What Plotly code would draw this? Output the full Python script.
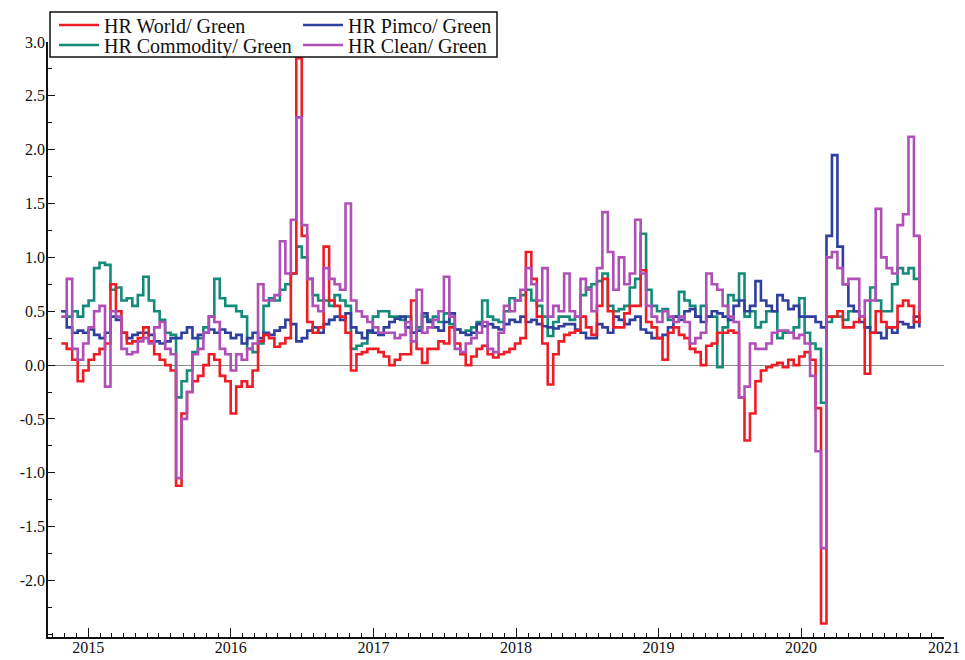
import pandas as pd
import plotly.graph_objects as go

# biweekly observation dates (Oct 2014 - Nov 2020)
dates = pd.date_range("2014-10-24", periods=158, freq="14D")

hr_world = [
    0.2, 0.15, 0.05, -0.15, -0.05, 0.05, 0.1, 0.15, 0.2, 0.75,
    0.5, 0.3, 0.2, 0.22, 0.25, 0.35, 0.22, 0.1, 0.05, 0.0,
    -0.05, -1.12, -0.45, -0.25, -0.15, -0.1, 0.0, 0.1, 0.05, -0.1,
    -0.15, -0.45, -0.2, -0.15, -0.2, -0.05, 0.22, 0.28, 0.25, 0.17,
    0.2, 0.25, 0.85, 2.85, 1.2, 0.4, 0.3, 0.35, 1.1, 0.6,
    0.55, 0.45, 0.3, -0.05, 0.1, 0.12, 0.15, 0.15, 0.12, 0.08,
    0.0, 0.05, 0.1, 0.1, 0.6, 0.15, 0.02, 0.15, 0.15, 0.22,
    0.2, 0.35, 0.2, 0.1, 0.0, 0.08, 0.15, 0.18, 0.1, 0.07,
    0.1, 0.12, 0.15, 0.2, 0.25, 1.05, 0.8, 0.45, 0.2, -0.18,
    0.1, 0.22, 0.28, 0.3, 0.32, 0.45, 0.35, 0.28, 0.55, 0.8,
    0.5, 0.35, 0.35, 0.48, 0.55, 0.55, 0.88, 0.4, 0.35, 0.25,
    0.05, 0.3, 0.35, 0.28, 0.25, 0.15, 0.12, 0.0, 0.18, 0.2,
    0.3, 0.3, 0.32, 0.3, -0.3, -0.7, -0.45, -0.15, -0.05, -0.02,
    0.0, 0.02, -0.02, 0.05, 0.0, 0.08, 0.12, 0.05, -0.4, -2.4,
    0.45, 0.45, 0.5, 0.35, 0.35, 0.4, 0.45, -0.08, 0.3, 0.5,
    0.4, 0.35, 0.35, 0.55, 0.6, 0.55, 0.4, 1.2,
]

hr_commodity = [
    0.5, 0.45, 0.5, 0.45, 0.55, 0.6, 0.9, 0.95, 0.93, 0.7,
    0.72, 0.6, 0.62, 0.55, 0.65, 0.82, 0.6, 0.5, 0.42, 0.3,
    0.28, -0.3, -0.15, -0.05, 0.12, 0.25, 0.35, 0.45, 0.8, 0.62,
    0.55, 0.55, 0.5, 0.45, 0.15, 0.12, 0.2, 0.55, 0.62, 0.6,
    0.7, 0.75, 0.85, 1.1, 1.0, 0.8, 0.65, 0.6, 0.6, 0.55,
    0.65, 0.6, 0.55, 0.15, 0.18, 0.2, 0.3, 0.45, 0.5, 0.5,
    0.45, 0.45, 0.42, 0.45, 0.3, 0.35, 0.45, 0.42, 0.45, 0.4,
    0.48, 0.38, 0.33, 0.3, 0.32, 0.35, 0.4, 0.6, 0.45, 0.42,
    0.4, 0.5, 0.62, 0.6, 0.65, 0.7, 0.6, 0.55, 0.45, 0.27,
    0.4, 0.45, 0.45, 0.42, 0.45, 0.65, 0.72, 0.75, 0.78, 0.85,
    0.55, 0.5, 0.52, 0.55, 0.72, 0.8, 1.22, 0.7, 0.55, 0.5,
    0.52, 0.42, 0.45, 0.68, 0.6, 0.55, 0.45, 0.55, 0.45, 0.45,
    -0.02, 0.35, 0.65, 0.6, 0.85, 0.45, 0.5, 0.35, 0.4, 0.5,
    0.5, 0.25, 0.3, 0.3, 0.35, 0.62, 0.3, 0.2, 0.15, -0.35,
    0.4, 0.45, 0.45, 0.42, 0.5, 0.5, 0.45, 0.35, 0.72, 0.6,
    0.5, 0.5, 0.75, 0.9, 0.85, 0.9, 0.8, 0.85,
]

hr_pimco = [
    0.5, 0.35, 0.3, 0.32, 0.3, 0.33, 0.28, 0.25, 0.3, 0.45,
    0.42, 0.3, 0.25, 0.28, 0.3, 0.3, 0.28, 0.22, 0.2, 0.22,
    0.25, 0.25, 0.3, 0.35, 0.25, 0.28, 0.3, 0.33, 0.3, 0.33,
    0.3, 0.25, 0.28, 0.2, 0.25, 0.3, 0.25, 0.3, 0.28, 0.32,
    0.35, 0.42, 0.38, 0.22, 0.25, 0.32, 0.35, 0.3, 0.38, 0.42,
    0.45, 0.42, 0.48, 0.35, 0.3, 0.25, 0.32, 0.3, 0.28, 0.35,
    0.4, 0.43, 0.45, 0.35, 0.3, 0.32, 0.48, 0.4, 0.35, 0.32,
    0.4, 0.48, 0.33, 0.3, 0.28, 0.3, 0.38, 0.36, 0.38, 0.35,
    0.33, 0.38, 0.42, 0.4, 0.45, 0.4, 0.42, 0.38, 0.36, 0.35,
    0.34, 0.36, 0.38, 0.38, 0.33, 0.3, 0.25, 0.25, 0.38, 0.35,
    0.3, 0.45, 0.42, 0.38, 0.42, 0.45, 0.33, 0.3, 0.25, 0.25,
    0.28, 0.35, 0.45, 0.42, 0.5, 0.52, 0.45, 0.4, 0.45, 0.5,
    0.48, 0.45, 0.42, 0.55, 0.6, 0.5, 0.55, 0.78, 0.6, 0.55,
    0.5, 0.65, 0.6, 0.52, 0.55, 0.45, 0.45, 0.45, 0.4, 0.35,
    1.2, 1.95, 1.1, 0.75, 0.55, 0.5, 0.4, 0.35, 0.3, 0.3,
    0.25, 0.35, 0.3, 0.4, 0.38, 0.35, 0.45, 0.35,
]

hr_clean = [
    0.45, 0.8, 0.15, 0.05, 0.2, 0.35, 0.5, 0.55, -0.2, 0.5,
    0.45, 0.15, 0.1, 0.12, 0.22, 0.25, 0.2, 0.35, 0.4, 0.15,
    0.1, -1.05, -0.5, -0.25, 0.1, 0.15, 0.3, 0.45, 0.4, 0.15,
    0.1, -0.05, 0.1, 0.05, 0.15, 0.2, 0.75, 0.6, 0.6, 0.65,
    1.15, 0.85, 1.35, 2.3, 1.3, 0.8, 0.55, 0.5, 0.9, 0.8,
    0.75, 0.7, 1.5, 0.6, 0.5, 0.45, 0.4, 0.35, 0.3, 0.3,
    0.3, 0.25, 0.28, 0.4, 0.22, 0.7, 0.3, 0.35, 0.42, 0.5,
    0.82, 0.45, 0.15, 0.12, 0.2, 0.25, 0.3, 0.4, 0.15, 0.12,
    0.3, 0.55, 0.5, 0.6, 0.7, 0.9, 0.75, 0.6, 0.9, 0.45,
    0.55, 0.5, 0.85, 0.5, 0.45, 0.8, 0.7, 0.5, 0.9, 1.42,
    1.05, 0.7, 1.0, 0.75, 0.85, 1.35, 0.85, 0.55, 0.45, 0.4,
    0.5, 0.45, 0.4, 0.45, 0.4, 0.2, 0.25, 0.3, 0.85, 0.75,
    0.7, 0.55, 0.45, 0.4, -0.3, -0.2, 0.2, 0.15, 0.15, 0.2,
    0.3, 0.32, 0.32, 0.3, 0.25, 0.28, 0.2, -0.1, -0.8, -1.7,
    1.0, 1.05, 0.9, 0.75, 0.8, 0.8, 0.45, 0.6, 0.6, 1.45,
    1.0, 0.9, 0.85, 1.3, 1.4, 2.12, 1.2, 0.5,
]

series_names = ["HR World/ Green", "HR Pimco/ Green", "HR Commodity/ Green", "HR Clean/ Green"]
y_tick_vals = [-2.0, -1.5, -1.0, -0.5, 0.0, 0.5, 1.0, 1.5, 2.0, 2.5, 3.0]
y_tick_text = ["-2.0", "-1.5", "-1.0", "-0.5", "0.0", "0.5", "1.0", "1.5", "2.0", "2.5", "3.0"]

W, H = 965, 660
L, R, T, B = 48, 944, 42, 637
pw, ph = R - L, B - T

def px_x(x):
    return (x - L) / pw

def px_y(y):
    return (B - y) / ph

FONT = "Liberation Serif, Times New Roman, serif"
colors = {
    "HR World/ Green": "#ee1c25",
    "HR Pimco/ Green": "#2f3f9e",
    "HR Commodity/ Green": "#148a78",
    "HR Clean/ Green": "#b04fb6",
}
data = {
    "HR World/ Green": hr_world,
    "HR Pimco/ Green": hr_pimco,
    "HR Commodity/ Green": hr_commodity,
    "HR Clean/ Green": hr_clean,
}
# one legend per entry so that the 2x2 block can be placed like the reference
legend_pos = {
    "HR World/ Green": ("legend", 54, 25),
    "HR Pimco/ Green": ("legend2", 298, 25),
    "HR Commodity/ Green": ("legend3", 54, 45),
    "HR Clean/ Green": ("legend4", 298, 45),
}

fig = go.Figure()
for name in ["HR Commodity/ Green", "HR Pimco/ Green", "HR World/ Green", "HR Clean/ Green"]:
    lg = legend_pos[name][0]
    fig.add_trace(go.Scatter(
        x=dates, y=data[name], mode="lines", name=name,
        line=dict(color=colors[name], width=2.6, shape="hv"),
        legend=lg,
    ))

legends = {}
for name, (lg, lx, ly) in legend_pos.items():
    legends[lg] = dict(
        x=px_x(lx), y=px_y(ly), xanchor="left", yanchor="middle",
        bgcolor="rgba(0,0,0,0)", borderwidth=0, orientation="v",
        font=dict(family=FONT, size=20, color="#111"),
        itemwidth=40,
    )

fig.update_layout(
    width=W, height=H,
    margin=dict(l=L, r=W - R, t=T, b=H - B, autoexpand=False),
    paper_bgcolor="white", plot_bgcolor="white",
    showlegend=True,
    font=dict(family=FONT, size=16, color="#111"),
    shapes=[dict(
        type="rect", xref="paper", yref="paper", layer="above",
        x0=px_x(50), x1=px_x(497), y0=px_y(57), y1=px_y(12),
        line=dict(color="#111", width=1.5), fillcolor="white",
    )],
    **legends,
)
fig.update_xaxes(
    type="date", range=["2014-09-20", "2021-01-01"],
    showline=True, linecolor="#111", linewidth=1.5, mirror=False,
    showgrid=False, zeroline=False,
    ticks="inside", ticklen=9, tickwidth=1.2, tickcolor="#111",
    dtick="M12", tick0="2015-01-01", tickformat="%Y",
    minor=dict(dtick="M1", tick0="2015-01-01", ticks="inside", ticklen=4, tickcolor="#111", showgrid=False),
    tickfont=dict(family=FONT, size=16, color="#111"),
    ticklabelstandoff=-5,
)
fig.update_yaxes(
    range=[-2.525, 3.0],
    showline=True, linecolor="#111", linewidth=1.5, mirror=False,
    showgrid=False,
    zeroline=True, zerolinecolor="#8a8a8a", zerolinewidth=1.2,
    ticks="inside", ticklen=7, tickwidth=1.2, tickcolor="#111",
    tickmode="array", tickvals=y_tick_vals, ticktext=y_tick_text,
    minor=dict(dtick=0.25, tick0=0, ticks="inside", ticklen=4, tickcolor="#111", showgrid=False),
    tickfont=dict(family=FONT, size=16, color="#111"),
    ticklabelstandoff=-2,
)

fig.write_html(
    "out.html",
    config={"displayModeBar": False},
    post_script="document.body.style.margin='0';document.body.style.padding='0';",
)
